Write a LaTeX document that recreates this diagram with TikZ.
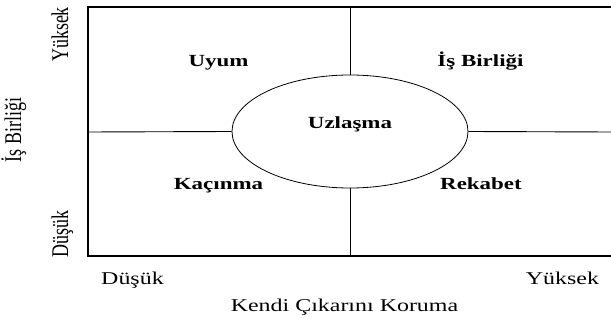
\documentclass[tikz,border=0pt]{standalone}
\usepackage{fontspec}
\setmainfont{Liberation Serif}
\usetikzlibrary{shapes.geometric}
\begin{document}
\begin{tikzpicture}[x=1pt,y=-1pt,
  lbl/.style={inner sep=0pt, anchor=base, font=\fontsize{18}{21}\selectfont, xscale=1.33},
  blbl/.style={inner sep=0pt, anchor=base, font=\fontsize{17}{20}\selectfont\bfseries, xscale=1.35},
  vlbl/.style={lbl, rotate=90},
  frame/.style={line width=1.3pt},
  divider/.style={line width=0.9pt}]
\useasboundingbox (0,0) rectangle (611,320);
\coordinate (tl) at (88,7);
\coordinate (bl) at (88,256);
\coordinate (tr) at (611,7);
\coordinate (br) at (611,256);
\coordinate (vt) at (350,7);
\coordinate (vb) at (350,256);
\coordinate (hl) at (88,132);
\coordinate (hr) at (611,132);
\node[draw, ellipse, minimum width=236pt, minimum height=113pt, inner sep=0pt, line width=0.8pt] (uz) at (350,131.5) {};
\draw[frame] (tr) -- (tl) -- (bl) -- (br);
\draw[divider] (vt) -- (uz.north);
\draw[divider] (uz.south) -- (vb);
\draw[divider] (hl) -- (uz.west);
\draw[divider] (uz.east) -- (hr);
\node[blbl] (uyum) at (218.5,67) {Uyum};
\node[blbl] (isb) at (480.5,67) {İş Birliği};
\node[blbl] (uzt) at (350,129) {Uzlaşma};
\node[blbl] (kac) at (218.5,190) {Kaçınma};
\node[blbl] (rek) at (481,190) {Rekabet};
\node[lbl] (xlow) at (132.5,285) {Düşük};
\node[lbl] (xhigh) at (562.5,285) {Yüksek};
\node[lbl] (xaxis) at (344.5,312) {Kendi Çıkarını Koruma};
\node[vlbl] (yhigh) at (68,34.5) {Yüksek};
\node[vlbl] (ylow) at (68,234) {Düşük};
\node[vlbl] (yaxis) at (21,130) {İş Birliği};
\end{tikzpicture}
\end{document}
